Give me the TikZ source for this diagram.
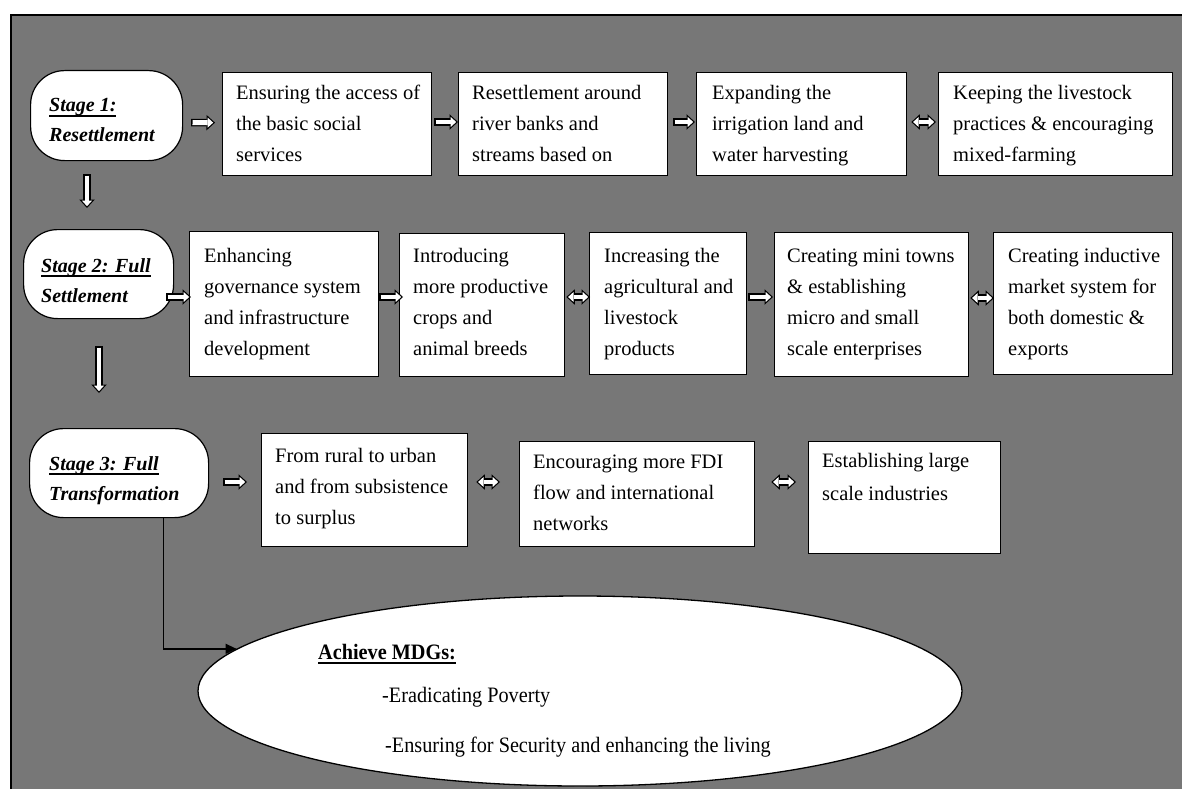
\documentclass[tikz,border=0pt]{standalone}
\usepackage{fontspec}
\setmainfont{Liberation Serif}
\newfontfamily\condfont{Liberation Serif}[FakeStretch=0.92]
\usetikzlibrary{arrows.meta,shapes.geometric,calc}
\definecolor{bggray}{RGB}{119,119,119}
\newsavebox\ulbox
\newcommand\myul[2][4.6pt]{\sbox\ulbox{#2}\rlap{\rule[-#1]{\wd\ulbox}{1.8pt}}\usebox\ulbox}
\newcommand\ml[1]{\begin{tabular}[t]{@{}l@{}}#1\end{tabular}}
\tikzset{
  bigtip/.tip={Triangle[length=8.5pt,width=15.5pt,line width=0pt]},
  smalltip/.tip={Triangle[length=5.5pt,width=10pt,line width=0pt]},
}
\begin{document}
\begin{tikzpicture}[x=1pt,y=-1pt,
  box/.style={draw=black, fill=white, line width=1.3pt, inner sep=0pt, anchor=north west},
  stagebox/.style={draw=black, fill=white, line width=1.2pt, rounded corners=34pt, inner sep=0pt, anchor=north west},
  txt/.style={anchor=base west, inner sep=0pt, font=\fontsize{20.5}{31}\selectfont},
  stxt/.style={anchor=base west, inner sep=0pt, font=\fontsize{20}{30}\selectfont\bfseries\itshape},
  etxt/.style={anchor=base west, inner sep=0pt, font=\condfont\fontsize{22}{26}\selectfont},
  blk/.style={draw=black, line width=7.5pt, -bigtip,
    postaction={draw=white, line width=4.8pt, -smalltip, shorten >=1.8pt, shorten <=1.3pt}},
  dblk/.style={draw=black, line width=7.5pt, bigtip-bigtip,
    postaction={draw=white, line width=4.8pt, smalltip-smalltip, shorten >=1.8pt, shorten <=1.8pt}},
  conn/.style={draw=black, line width=1.4pt, -{Triangle[length=11pt,width=10pt]}}
]
\useasboundingbox (0,0) rectangle (1182,789);
\fill[white] (0,0) rectangle (1182,789);
\fill[bggray] (11,15) rectangle (1182,789);
\draw[line width=2pt] (11,789) -- (11,15) -- (1182,15);

% stages
\node[stagebox, minimum width=152pt, minimum height=90pt] (s1) at (30,70) {};
\node[stagebox, minimum width=150pt, minimum height=89pt] (s2) at (23,229) {};
\node[stagebox, minimum width=179pt, minimum height=89pt] (s3) at (29,428) {};
\node[stxt] (s1t) at ([shift={(19,42)}]s1.north west) {\ml{\myul{Stage 1:}\\Resettlement}};
\node[stxt] (s2t) at ([shift={(18,43)}]s2.north west) {\ml{\myul{Stage 2: Full}\\Settlement}};
\node[stxt] (s3t) at ([shift={(20,42)}]s3.north west) {\ml{\myul{Stage 3: Full}\\Transformation}};

% row 1
\node[box, minimum width=209pt, minimum height=103pt] (b1) at (222,72) {};
\node[box, minimum width=209pt, minimum height=103pt] (b2) at (458,72) {};
\node[box, minimum width=210pt, minimum height=103pt] (b3) at (696,72) {};
\node[box, minimum width=234pt, minimum height=103pt] (b4) at (938,72) {};
\node[txt] (b1t) at ([shift={(14,28)}]b1.north west) {\ml{Ensuring the access of\\the basic social\\services}};
\node[txt] (b2t) at ([shift={(14,28)}]b2.north west) {\ml{Resettlement around\\river banks and\\streams based on}};
\node[txt] (b3t) at ([shift={(16,28)}]b3.north west) {\ml{Expanding the\\irrigation land and\\water harvesting}};
\node[txt] (b4t) at ([shift={(15,28)}]b4.north west) {\ml{Keeping the livestock\\practices \& encouraging\\mixed-farming}};

% row 2
\node[box, minimum width=189pt, minimum height=145pt] (c1) at (189,231) {};
\node[box, minimum width=165pt, minimum height=143pt] (c2) at (399,233) {};
\node[box, minimum width=157pt, minimum height=142pt] (c3) at (589,232) {};
\node[box, minimum width=194pt, minimum height=144pt] (c4) at (774,232) {};
\node[box, minimum width=179pt, minimum height=142pt] (c5) at (993,232) {};
\node[txt] (c1t) at ([shift={(15,31)}]c1.north west) {\ml{Enhancing\\governance system\\and infrastructure\\development}};
\node[txt] (c2t) at ([shift={(14,29)}]c2.north west) {\ml{Introducing\\more productive\\crops and\\animal breeds}};
\node[txt] (c3t) at ([shift={(15,30)}]c3.north west) {\ml{Increasing the\\agricultural and\\livestock\\products}};
\node[txt] (c4t) at ([shift={(13,30)}]c4.north west) {\ml{Creating mini towns\\\& establishing\\micro and small\\scale enterprises}};
\node[txt] (c5t) at ([shift={(15,30)}]c5.north west) {\ml{Creating inductive\\market system for\\both domestic \&\\exports}};

% row 3
\node[box, minimum width=206pt, minimum height=113pt] (d1) at (261,433) {};
\node[box, minimum width=235pt, minimum height=105pt] (d2) at (519,441) {};
\node[box, minimum width=192pt, minimum height=112pt] (d3) at (808,441) {};
\node[txt] (d1t) at ([shift={(14,29)}]d1.north west) {\ml{From rural to urban\\and from subsistence\\to surplus}};
\node[txt] (d2t) at ([shift={(14,27)}]d2.north west) {\ml{Encouraging more FDI\\flow and international\\networks}};
\node[txt, font=\fontsize{20.5}{33}\selectfont] (d3t) at ([shift={(14,26)}]d3.north west) {\ml{Establishing large\\scale industries}};

% ellipse
\node[ellipse, draw=black, fill=white, line width=1.3pt, minimum width=764pt, minimum height=190pt, inner sep=0pt] (ell) at (580,691) {};
\node[etxt] (mdg) at ([shift={(-262,-32)}]ell.center) {\bfseries\myul[5pt]{Achieve MDGs:}};
\node[etxt] (e1) at ([shift={(-198,11)}]ell.center) {-Eradicating Poverty};
\node[etxt] (e2) at ([shift={(-195,61)}]ell.center) {-Ensuring for Security and enhancing the living};

% block arrows row 1
\draw[blk] ([shift={(8,7)}]s1.east) -- ([shift={(-7,-1.5)}]b1.west);
\draw[blk] ([shift={(2,50)}]b1.north east) -- ([shift={(0,50)}]b2.north west);
\draw[blk] ([shift={(5,50)}]b2.north east) -- ([shift={(-1,50)}]b3.north west);
\draw[dblk] ([shift={(4,50)}]b3.north east) -- ([shift={(-2,50)}]b4.north west);
% row 2
\draw[blk] ([shift={(-8,68)}]s2.north east) -- ([shift={(2,66)}]c1.north west);
\draw[blk] ([shift={(0,66)}]c1.north east) -- ([shift={(4,64)}]c2.north west);
\draw[dblk] ([shift={(1,64)}]c2.north east) -- ([shift={(1,65)}]c3.north west);
\draw[blk] ([shift={(1,65)}]c3.north east) -- ([shift={(-1,65)}]c4.north west);
\draw[dblk] ([shift={(1,66)}]c4.north east) -- ([shift={(1,66)}]c5.north west);
% row 3
\draw[blk] ([shift={(14,54)}]s3.north east) -- ([shift={(-14,49)}]d1.north west);
\draw[dblk] ([shift={(8,49)}]d1.north east) -- ([shift={(-19,41)}]d2.north west);
\draw[dblk] ([shift={(16,41)}]d2.north east) -- ([shift={(-12,41)}]d3.north west);
% vertical
\draw[blk] ([shift={(57,13)}]s1.south west) -- ([shift={(64,-21)}]s2.north west);
\draw[blk] ([shift={(76,27)}]s2.south west) -- ([shift={(70,-35)}]s3.north west);

% connector to ellipse
\draw[conn] ([xshift=44.5pt]s3.south) |- (ell.173.8);
\end{tikzpicture}
\end{document}
